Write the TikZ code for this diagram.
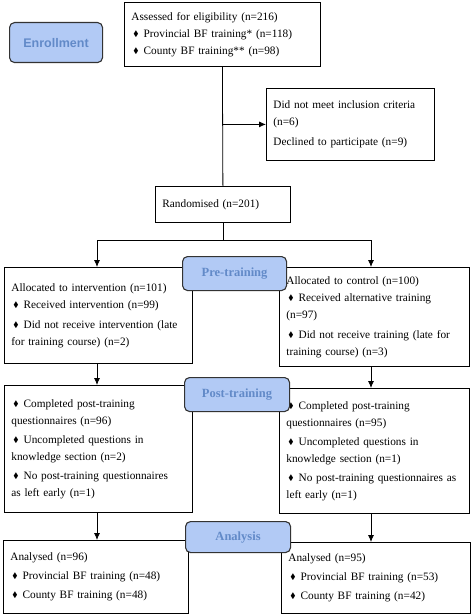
\documentclass[tikz,border=0pt]{standalone}
\usepackage{amssymb}
\usepackage{fontspec}
\setmainfont{Liberation Serif}
\setsansfont{Liberation Sans}
\usetikzlibrary{arrows.meta}
\definecolor{stagefill}{RGB}{178,202,245}
\definecolor{stagetext}{RGB}{98,138,200}
\newcommand{\itm}{\hspace{2pt}\raisebox{0.2ex}{\scalebox{0.7}{$\blacklozenge$}}\hspace{5pt}}

\begin{document}
\begin{tikzpicture}[x=1pt,y=1pt]
\tikzstyle{box}=[draw,line width=0.8pt,anchor=north west,align=left,inner xsep=7pt,inner ysep=0pt,font=\fontsize{11.3}{17}\selectfont]
\tikzstyle{stage}=[draw=black!80,line width=1.1pt,rounded corners=5pt,fill=stagefill,text=stagetext,anchor=north west,inner sep=0pt,font=\bfseries\fontsize{12.5}{14}\selectfont]
\tikzstyle{arr}=[-{Latex[length=7pt,width=6pt]},line width=0.8pt]
\useasboundingbox (0,0) rectangle (473,-615);
% boxes
\node[box,text width=182pt,minimum height=64pt] (assess) at (124,-2) {Assessed for eligibility (n=216)\\ \itm Provincial BF training* (n=118)\\ \itm County BF training** (n=98)};
\node[box,text width=154pt,minimum height=72pt] (excl) at (266,-88) {Did not meet inclusion criteria\\ (n=6)\\[3pt] Declined to participate (n=9)};
\node[box,text width=121pt,minimum height=36pt] (rand) at (155,-186) {Randomised (n=201)};
\node[box,text width=174pt,minimum height=96pt] (allocI) at (4,-267) {Allocated to intervention (n=101)\\ \itm Received intervention (n=99)\\[3pt] \itm Did not receive intervention (late\\ for training course) (n=2)};
\node[box,text width=176pt,minimum height=99pt] (allocC) at (279,-267) {Allocated to control (n=100)\\ \itm Received alternative training\\ (n=97)\\[3pt] \itm Did not receive training (late for\\ training course) (n=3)};
\node[box,text width=174pt,minimum height=127pt] (postI) at (4,-385) {\itm Completed post-training\\ questionnaires (n=96)\\[2pt] \itm Uncompleted questions in\\ knowledge section (n=2)\\[2pt] \itm No post-training questionnaires\\ as left early (n=1)};
\node[box,text width=176pt,minimum height=125pt] (postC) at (279,-388) {\itm Completed post-training\\ questionnaires (n=95)\\[2pt] \itm Uncompleted questions in\\ knowledge section (n=1)\\[2pt] \itm No post-training questionnaires as\\ left early (n=1)};
\node[box,text width=171pt,minimum height=73pt] (anI) at (3,-540) {Analysed (n=96)\\[2pt] \itm Provincial BF training (n=48)\\[2pt] \itm County BF training (n=48)};
\node[box,text width=175pt,minimum height=71pt] (anC) at (281,-542) {Analysed (n=95)\\[2pt] \itm Provincial BF training (n=53)\\[2pt] \itm County BF training (n=42)};
% connectors
\coordinate (sl) at (97,-240);
\coordinate (sr) at (371,-240);
\draw[line width=0.8pt] (assess.south) -- (rand.north);
\draw[arr] (assess.south |- excl.west) -- (excl.west);
\draw[line width=0.8pt] (rand.south) -- (rand.south |- sl);
\draw[line width=0.8pt] (sl) -- (sr);
\draw[arr] (sl) -- (sl |- allocI.north);
\draw[arr] (sr) -- (sr |- allocC.north);
\draw[arr] (allocI.south -| sl) -- (sl |- postI.north);
\draw[arr] (allocC.south -| sr) -- (sr |- postC.north);
\draw[arr] (postI.south -| sl) -- (sl |- anI.north);
\draw[arr] (postC.south -| sr) -- (sr |- anC.north);
% stage labels
\node[stage,minimum width=93pt,minimum height=40pt,font=\sffamily\bfseries\fontsize{12.5}{14}\selectfont] (enrol) at (9,-22) {Enrollment};
\node[stage,minimum width=104pt,minimum height=34pt] (pre) at (182,-256) {Pre-training};
\node[stage,minimum width=105pt,minimum height=34pt] (post) at (184,-377) {Post-training};
\node[stage,minimum width=105pt,minimum height=31pt] (anal) at (185,-521) {Analysis};
\end{tikzpicture}
\end{document}
